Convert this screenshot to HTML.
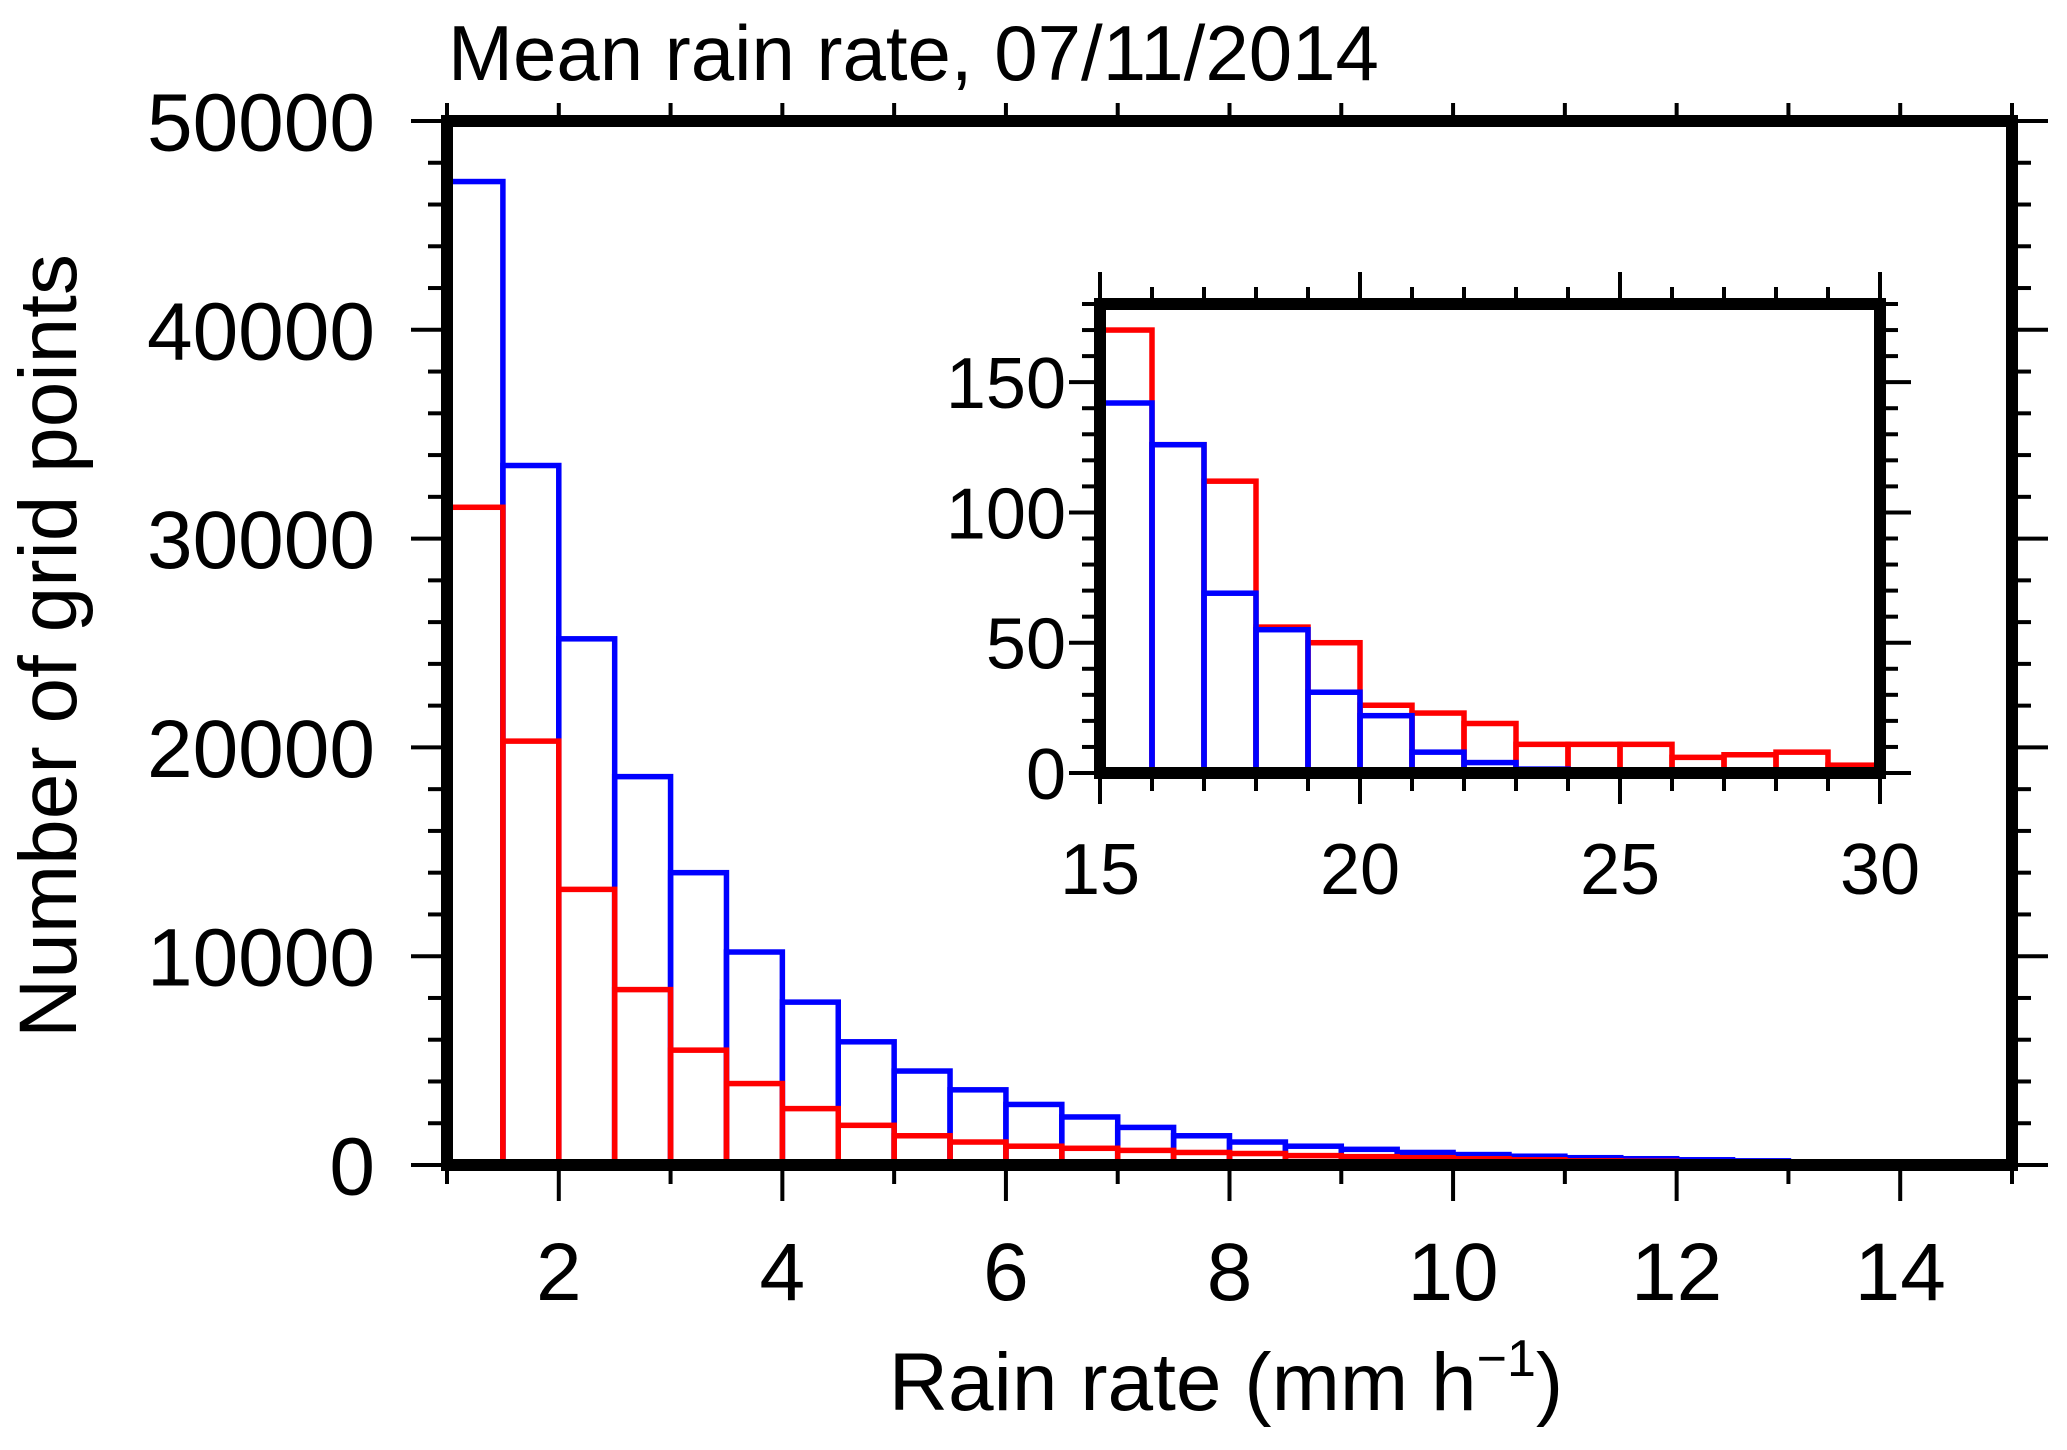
<!DOCTYPE html>
<html><head><meta charset="utf-8"><style>
html,body{margin:0;padding:0;background:#fff}
svg text{font-family:"Liberation Sans",sans-serif}
</style></head><body>
<svg id="chart" width="2067" height="1445" viewBox="0 0 2067 1445" xmlns="http://www.w3.org/2000/svg">
<g id="main"></g><g id="inset"></g>
</svg>
<script>
const mainBinStart = 1, mainBinWidth = 0.5;
const mainBlue = [47100,33500,25200,18600,14000,10200,7800,5900,4500,3600,2900,2300,1800,1400,1100,900,750,600,500,420,350,300,250,200,150,120,100,80];
const mainRed = [31500,20300,13200,8400,5500,3900,2700,1900,1400,1100,900,800,700,600,550,450,400,350,300,250,200,180,150,120,100,90,80,70];
const mainYTicks = [0,10000,20000,30000,40000,50000];
const mainXTicks = [2,4,6,8,10,12,14];
const insetBinStart = 15, insetBinWidth = 1;
const insetRed = [170,126,112,56,50,26,23,19,11,11,11,6,7,8,3];
const insetBlue = [142,126,69,55,31,22,8,4,1.5,0,0,0,0,0,0];
const insetYTicks = [0,50,100,150];
const insetXTicks = [15,20,25,30];

const NS = "http://www.w3.org/2000/svg";
function mk(parent, tag, attrs, text){const e=document.createElementNS(NS,tag);for(const k in attrs)e.setAttribute(k,attrs[k]);if(text!==undefined)e.textContent=text;parent.appendChild(e);return e;}

function drawPanel(g, cfg){
  const sx = v => cfg.x0 + (v-cfg.xmin)/(cfg.xmax-cfg.xmin)*(cfg.x1-cfg.x0);
  const sy = v => cfg.y0 - (v-cfg.ymin)/(cfg.ymax-cfg.ymin)*(cfg.y0-cfg.y1);
  mk(g,'rect',{x:cfg.x0,y:cfg.y1,width:cfg.x1-cfg.x0,height:cfg.y0-cfg.y1,fill:'#fff'});
  cfg.series.forEach(s=>{
    const sg = mk(g,'g',{});
    
    
    s.vals.forEach((v,i)=>{
      const a = cfg.binStart + i*cfg.binWidth, b = a+cfg.binWidth;
      const r = mk(sg,'rect',{x:sx(a),y:sy(v),width:sx(b)-sx(a),height:sy(0)-sy(v),fill:'none',stroke:s.color,'stroke-width':cfg.bw});
      
      
    });
  });
  mk(g,'line',{x1:cfg.x0,x2:cfg.x1,y1:sy(0),y2:sy(0),stroke:'#000','stroke-width':4});
  const fr = mk(g,'rect',{x:cfg.x0,y:cfg.y1,width:cfg.x1-cfg.x0,height:cfg.y0-cfg.y1,fill:'none',stroke:'#000','stroke-width':cfg.fw});
  
  
  const h = cfg.fw/2;
  for(let v=cfg.ymin; v<=cfg.ymax+1e-9; v+=cfg.yMinor){
    const major = Math.abs(v/cfg.yMajor - Math.round(v/cfg.yMajor))<1e-6;
    const L = major?cfg.tMaj:cfg.tMin, y=sy(v);
    mk(g,'line',{x1:cfg.x0-h-L,x2:cfg.x0-h,y1:y,y2:y,stroke:'#000','stroke-width':4});
    mk(g,'line',{x1:cfg.x1+h,x2:cfg.x1+h+L,y1:y,y2:y,stroke:'#000','stroke-width':4});
  }
  cfg.yTicks.forEach(v=>{
    const t = mk(g,'text',{x:cfg.yLabelX,y:sy(v)+cfg.fs*0.36,'text-anchor':'end','font-size':cfg.fs},String(v));
    
    
  });
  for(let v=cfg.xmin; v<=cfg.xmax+1e-9; v+=cfg.xMinor){
    const major = Math.abs(v/cfg.xMajor - Math.round(v/cfg.xMajor))<1e-6;
    const x=sx(v);
    const L = major?cfg.tMaj:cfg.tMin;
    mk(g,'line',{x1:x,x2:x,y1:cfg.y0+h,y2:cfg.y0+h+L,stroke:'#000','stroke-width':4});
    mk(g,'line',{x1:x,x2:x,y1:cfg.y1-h-(major?cfg.tTopMaj:cfg.tTop),y2:cfg.y1-h,stroke:'#000','stroke-width':4});
  }
  cfg.xTicks.forEach(v=>{
    const t = mk(g,'text',{x:sx(v),y:cfg.xLabelY,'text-anchor':'middle','font-size':cfg.fs},String(v));
    
    
  });
}

const gm = document.getElementById('main');


drawPanel(gm,{name:'main',x0:447,x1:2012,y0:1165,y1:121,xmin:1,xmax:15,ymin:0,ymax:50000,
  binStart:mainBinStart,binWidth:mainBinWidth,bw:5.5,fw:12,tMaj:30,tMin:13,tTop:12,tTopMaj:12,
  yMajor:10000,yMinor:2000,xMajor:2,xMinor:1,yTicks:mainYTicks,xTicks:mainXTicks,
  yLabelX:375,xLabelY:1300,fs:82,
  series:[{name:'blue-series',color:'#0000ff',vals:mainBlue},{name:'red-series',color:'#ff0000',vals:mainRed}]});

const gi = document.getElementById('inset');


drawPanel(gi,{name:'inset',x0:1100,x1:1880,y0:773,y1:304,xmin:15,xmax:30,ymin:0,ymax:180,
  binStart:insetBinStart,binWidth:insetBinWidth,bw:5.5,fw:12,tMaj:25,tMin:12,tTop:11,tTopMaj:26,
  yMajor:50,yMinor:10,xMajor:5,xMinor:1,yTicks:insetYTicks,xTicks:insetXTicks,
  yLabelX:1066,xLabelY:894,fs:72,
  series:[{name:'inset-red-series',color:'#ff0000',vals:insetRed},{name:'inset-blue-series',color:'#0000ff',vals:insetBlue}]});

const svg = document.getElementById('chart');
const title = mk(svg,'text',{x:448,y:80,'font-size':78},'Mean rain rate, 07/11/2014');


const yt = mk(svg,'text',{x:0,y:0,'font-size':82,'text-anchor':'middle',transform:'translate(76,646) rotate(-90)'},'Number of grid points');


const xt = mk(svg,'text',{x:1226,y:1410,'font-size':82,'text-anchor':'middle'});


xt.appendChild(document.createTextNode('Rain rate (mm h'));
const sup = mk(xt,'tspan',{dy:-34,'font-size':52},'\u22121');
const cl = mk(xt,'tspan',{dy:34},')');
</script>
</body></html>
